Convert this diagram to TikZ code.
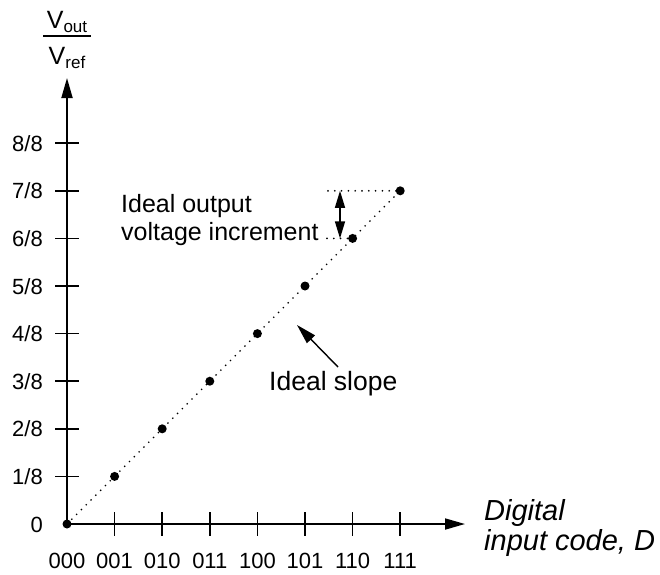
\documentclass[tikz,border=0pt]{standalone}
\usepackage{fontspec}
\setmainfont{Liberation Sans}
\usetikzlibrary{arrows.meta}
\newcommand{\lowsub}[1]{{\fontsize{17}{17}\selectfont\raisebox{-4pt}{#1}}}
\begin{document}
\begin{tikzpicture}[x=1pt,y=-1pt,
  axis/.style={line width=1.8pt},
  tickmark/.style={line width=1.6pt},
  dotline/.style={line width=1.9pt, line cap=round, dash pattern=on 0pt off 6.8pt},
  datapt/.style={circle, fill=black, inner sep=0pt, minimum size=9pt},
  bigtext/.style={font=\fontsize{25}{30}\selectfont, inner sep=0pt},
  ticktext/.style={font=\fontsize{22}{26}\selectfont, inner sep=0pt},
  bigtip/.style={-{Triangle[length=20pt,width=11pt]}},
  dbltip/.style={{Triangle[length=17pt,width=10pt]}-{Triangle[length=17pt,width=10pt]}}
]
\useasboundingbox (0,0) rectangle (660,574);

% axes
\coordinate (o) at (67,524);
\coordinate (ytip) at (67,78);
\coordinate (xtip) at (465,524);
\draw[axis, bigtip] (o) -- (ytip);
\draw[axis, bigtip] (o) -- (xtip);

% y ticks and fraction labels
\node[ticktext, anchor=base east] (y0) at (43,532) {0};
\foreach \i in {1,...,8} {
  \pgfmathsetmacro{\yy}{524-47.6*\i}
  \coordinate (yl\i) at (55,\yy);
  \coordinate (yr\i) at (79,\yy);
  \draw[tickmark] (yl\i) -- (yr\i);
  \node[ticktext, anchor=base east] (ylab\i) at (43,\yy+8) {\i/8};
}

% x ticks and binary codes
\node[ticktext, anchor=base] (xlab0) at (67,568) {000};
\foreach \i/\code in {1/001,2/010,3/011,4/100,5/101,6/110,7/111} {
  \pgfmathsetmacro{\xx}{67+47.6*\i}
  \coordinate (xt\i) at (\xx,512);
  \coordinate (xb\i) at (\xx,536);
  \draw[tickmark] (xt\i) -- (xb\i);
  \node[ticktext, anchor=base] (xlab\i) at (\xx,568) {\code};
}

% ideal transfer points
\foreach \i in {0,...,7} {
  \node[datapt] (d\i) at (67+47.6*\i, 524-47.6*\i) {};
}
\draw[dotline] (d0.center) -- (d7.center);

% increment marker
\coordinate (h7) at (328,190.8);
\coordinate (h6) at (327,238.4);
\draw[dotline] (h7) -- (d7.center);
\draw[dotline] (h6) -- (d6.center);
\coordinate (inctop) at (340,190.8);
\coordinate (incbot) at (340,238.4);
\draw[line width=1.4pt, dbltip] (inctop) -- (incbot);

\node[bigtext, anchor=base west] (io1) at (121,212) {Ideal output};
\node[bigtext, anchor=base west] (io2) at (121,240) {voltage increment};

% slope annotation
\node[bigtext, anchor=base west, font=\fontsize{26.5}{30}\selectfont] (slope) at (269,390) {Ideal slope};
\coordinate (slopetail) at (338,367);
\coordinate (slopetip) at (297,325);
\draw[line width=1.4pt, bigtip] (slopetail) -- (slopetip);

% axis titles
\node[font=\fontsize{25}{28}\selectfont, inner sep=0pt, anchor=base] (vout) at (67,28) {V\lowsub{out}};
\coordinate (barl) at (43,36);
\coordinate (barr) at (91,36);
\draw[line width=1.4pt] (barl) -- (barr);
\node[font=\fontsize{25}{28}\selectfont, inner sep=0pt, anchor=base] (vref) at (67,64) {V\lowsub{ref}};

\node[inner sep=0pt, anchor=base west, font=\fontsize{29}{32}\selectfont\itshape] (dig1) at (484,520) {Digital};
\node[inner sep=0pt, anchor=base west, font=\fontsize{29}{32}\selectfont\itshape] (dig2) at (484,550) {input code, D};
\end{tikzpicture}
\end{document}
